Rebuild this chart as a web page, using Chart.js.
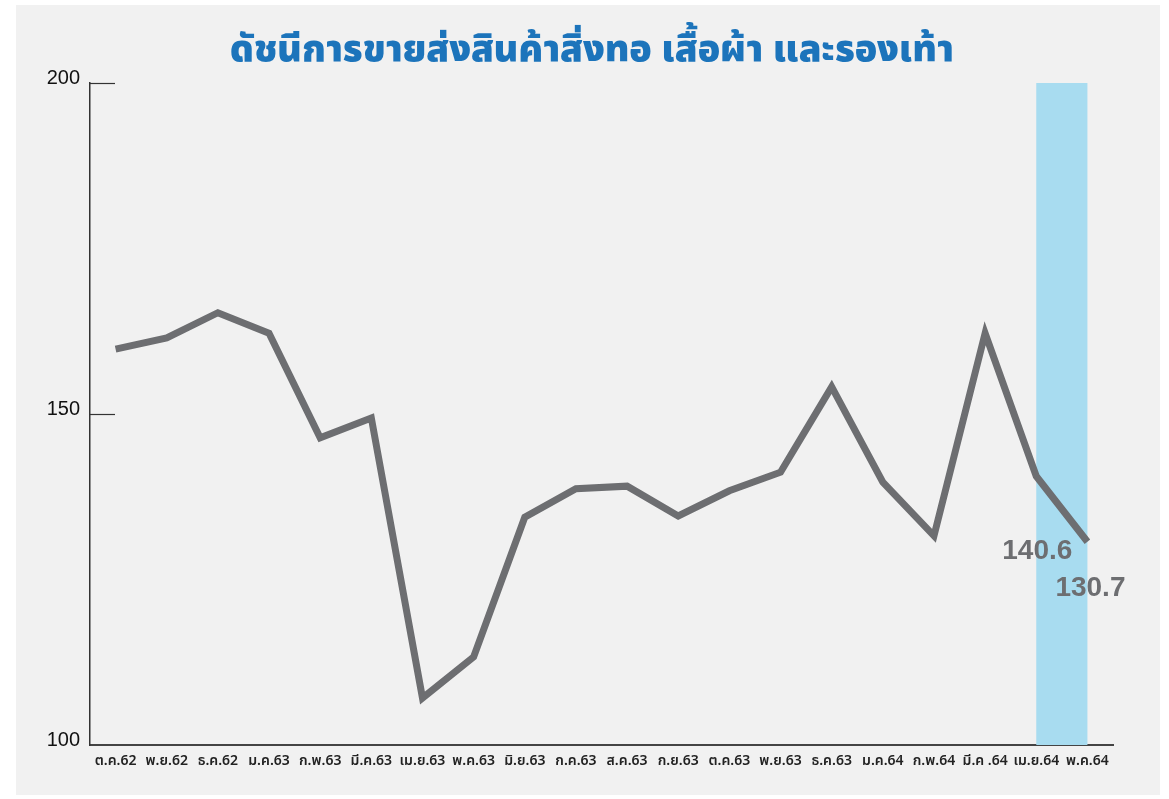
<!DOCTYPE html>
<html lang="th">
<head>
<meta charset="utf-8">
<title>ดัชนีการขายส่งสินค้าสิ่งทอ เสื้อผ้า และรองเท้า</title>
<script src="https://cdn.jsdelivr.net/npm/chart.js@4/dist/chart.umd.min.js"></script>
<style>
  html, body { margin: 0; padding: 0; background: #ffffff; }
  #wrap { position: relative; width: 1169px; height: 799px; }
</style>
</head>
<body>
<div id="wrap"><canvas id="chart" width="1169" height="799"></canvas></div>
<script>
// ── Data ────────────────────────────────────────────────────

const chartTitle = 'ดัชนีการขายส่งสินค้าสิ่งทอ เสื้อผ้า และรองเท้า';
const months = [
  'ต.ค.62', 'พ.ย.62', 'ธ.ค.62', 'ม.ค.63', 'ก.พ.63', 'มี.ค.63', 'เม.ย.63',
  'พ.ค.63', 'มิ.ย.63', 'ก.ค.63', 'ส.ค.63', 'ก.ย.63', 'ต.ค.63', 'พ.ย.63',
  'ธ.ค.63', 'ม.ค.64', 'ก.พ.64', 'มี.ค .64', 'เม.ย.64', 'พ.ค.64'
];
const indexValues = [
  159.8, 161.5, 165.3, 162.2, 146.4, 149.4, 107.1,
  113.3, 134.4, 138.7, 139.1, 134.6, 138.4, 141.2,
  154.1, 139.7, 131.6, 162.2, 140.6, 130.7
];
const yTicks = [100, 150, 200];
const highlightRange = [18, 19];   // เม.ย.64 – พ.ค.64
const labelledPoints = [18, 19];

const THAI_FONT = '"Noto Sans Thai", "Noto Sans", "DejaVu Sans", sans-serif';
const NUM_FONT = '"Liberation Sans", Arial, sans-serif';
const LINE_GREY = '#6d6e71';

// ── Plugins ─────────────────────────────────────────────────

// grey panel behind the whole chart, plus the heading
const panelBg = {
  id: 'panelBg',
  beforeDraw(chart) {
    const ctx = chart.ctx;
    ctx.save();
    ctx.fillStyle = '#f1f1f1';
    ctx.fillRect(16, 5, 1144, 790);
    ctx.font = '900 37px ' + THAI_FONT;
    ctx.fillStyle = '#1c74bb';
    ctx.textAlign = 'center';
    ctx.textBaseline = 'middle';
    ctx.fillText(chartTitle, 592, 54);
    ctx.restore();
  }
};

// light blue band over the last two months
const highlightBand = {
  id: 'highlightBand',
  beforeDatasetsDraw(chart) {
    const { ctx, scales: { x, y }, chartArea } = chart;
    const left = x.getPixelForValue(highlightRange[0]);
    const right = x.getPixelForValue(highlightRange[1]);
    const top = y.getPixelForValue(200);
    ctx.save();
    ctx.fillStyle = '#a8dcf0';
    ctx.fillRect(left, top, right - left, chartArea.bottom - top);
    ctx.restore();
  }
};

// short inward tick marks on the value axis
const innerTicks = {
  id: 'innerTicks',
  afterDraw(chart) {
    const { ctx, scales: { y }, chartArea } = chart;
    ctx.save();
    ctx.strokeStyle = '#333333';
    ctx.lineWidth = 1.2;
    yTicks.slice(1).forEach(v => {
      const py = Math.round(y.getPixelForValue(v)) + 0.5;
      ctx.beginPath();
      ctx.moveTo(chartArea.left, py);
      ctx.lineTo(chartArea.left + 25, py);
      ctx.stroke();
    });
    ctx.restore();
  }
};

// value labels for the latest two months
const valueLabels = {
  id: 'valueLabels',
  afterDatasetsDraw(chart) {
    const { ctx } = chart;
    const meta = chart.getDatasetMeta(0);
    const offsets = { 18: [1, 75], 19: [3, 47] };
    ctx.save();
    ctx.font = 'bold 28px ' + NUM_FONT;
    ctx.fillStyle = LINE_GREY;
    ctx.textAlign = 'center';
    ctx.textBaseline = 'middle';
    labelledPoints.forEach(i => {
      const pt = meta.data[i];
      const [dx, dy] = offsets[i];
      ctx.fillText(indexValues[i].toFixed(1), pt.x + dx, pt.y + dy);
    });
    ctx.restore();
  }
};

// ── Chart ───────────────────────────────────────────────────

new Chart(document.getElementById('chart'), {
  type: 'line',
  data: {
    labels: months,
    datasets: [{
      data: indexValues,
      borderColor: LINE_GREY,
      borderWidth: 7,
      borderJoinStyle: 'miter',
      pointRadius: 0,
      tension: 0,
      fill: false
    }]
  },
  options: {
    responsive: false,
    animation: false,
    layout: { padding: { left: 0, right: 56, top: 83, bottom: 0 } },
    plugins: {
      legend: { display: false },
      tooltip: { enabled: false },
      title: { display: false }
    },
    scales: {
      x: {
        offset: true,
        grid: { display: false, drawTicks: false },
        border: { display: true, color: '#444444', width: 2 },
        ticks: {
          color: '#222222',
          font: { family: THAI_FONT, size: 14, weight: '600' },
          padding: 9,
          maxRotation: 0,
          autoSkip: false
        },
        afterFit(scale) { scale.height = 54; }
      },
      y: {
        min: 100,
        max: 200,
        grid: { display: false, drawTicks: false },
        border: { display: true, color: '#333333', width: 1.5 },
        ticks: {
          stepSize: 50,
          color: '#111111',
          font: { family: NUM_FONT, size: 20 },
          padding: 10,
          labelOffset: -5
        },
        afterFit(scale) { scale.width = 90; }
      }
    }
  },
  plugins: [panelBg, highlightBand, innerTicks, valueLabels]
});
</script>
</body>
</html>
